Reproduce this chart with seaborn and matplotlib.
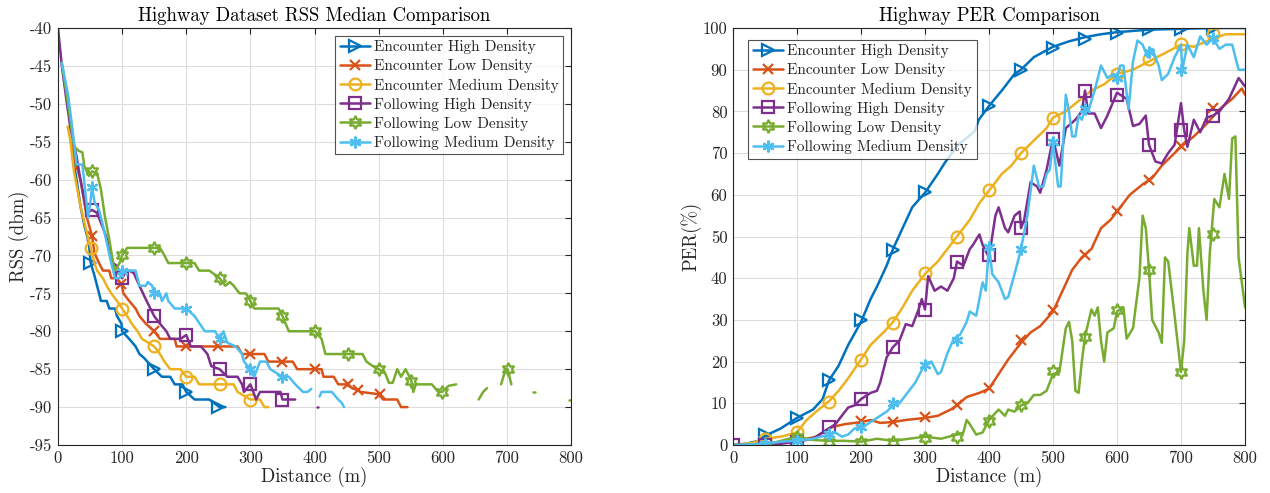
import numpy as np
import pandas as pd
import matplotlib
matplotlib.use("Agg")
import matplotlib.pyplot as plt
from matplotlib.lines import Line2D
import seaborn as sns

nan = np.nan
labels = ["Encounter High Density", "Encounter Low Density", "Encounter Medium Density",
          "Following High Density", "Following Low Density", "Following Medium Density"]
colors = ["#0072BD", "#D95319", "#EDB120", "#7E2F8E", "#77AC30", "#4DBEEE"]
markers = [">", "x", "o", "s", (6, 1, 0), (6, 2, 0)]
msizes = [8.5, 6.5, 8.5, 8.0, 9.5, 8.5]

# ---------------- RSS (left) ----------------
rss_eh_x = [22, 29, 35, 41, 48, 51, 57, 64, 67, 76, 80, 89, 92, 99, 100, 111, 121, 127, 134, 150, 162, 175, 182, 194, 200, 213, 236, 252, 261]
rss_eh_y = [-56.7, -60, -63.5, -66, -68.3, -71, -72.7, -75, -76, -76, -77, -77, -78, -79, -80, -81, -82, -83, -83.5, -85, -86, -86, -87, -87, -88, -89, -89, -90, -90]
rss_eh_mx = [50, 100, 150, 200, 250]
rss_eh_my = [-71, -80, -85, -88, -90]

rss_el_x = [20, 28, 35, 45, 53, 57, 64, 70, 80, 83, 92, 99, 102, 111, 121, 127, 137, 150, 159, 182, 185, 200, 280, 287, 300, 322, 328, 350, 366, 373, 401, 411, 414, 430, 437, 449, 459, 465, 472, 500, 507, 529, 535, 545]
rss_el_y = [-55, -58, -60, -65, -67.4, -69.7, -71, -72, -72, -73, -73, -73.8, -75, -76, -77, -78, -79, -80, -81, -81, -82, -82, -82, -83, -83, -83, -84, -84, -84, -85, -85, -85, -86, -86, -87, -87, -87.5, -87.7, -88, -88.3, -89, -89, -90, -90]
rss_el_mx = [53, 99, 150, 200, 250, 300, 350, 401, 452, 468, 502]
rss_el_my = [-67.4, -73.8, -80, -82, -82, -83, -84, -85, -87, -87.7, -88.3]

rss_em_x = [15, 19, 25, 35, 45, 51, 57, 61, 70, 76, 83, 92, 100, 108, 115, 124, 131, 150, 159, 166, 175, 191, 200, 213, 220, 252, 274, 280, 300, 315, 322, 328]
rss_em_y = [-53, -54.7, -59, -63.5, -67, -69, -71, -72, -73, -74, -75, -76, -77, -78, -79, -80, -81, -82, -83, -84, -85, -85, -86, -86, -87, -87, -87, -88, -89, -89, -90, -90]
rss_em_mx = [51, 100, 150, 200, 252, 300]
rss_em_my = [-69, -77, -82, -86, -87, -89]

rss_fh_x = [0, 6, 13, 19, 29, 35, 41, 45, 53, 61, 67, 73, 80, 86, 92, 100, 105, 111, 118, 127, 137, 150, 159, 169, 175, 191, 200, 207, 223, 233, 239, 252, 264, 280, 287, 290, 300, 309, 315, 347, 350, 366, 370, nan, 404, 406]
rss_fh_y = [-40, -45, -49.4, -53, -57, -60, -62.6, -64.4, -64, -64.4, -65.7, -67, -68.8, -71, -71.4, -73, -72.3, -72, -72.3, -74, -75.8, -78, -79, -80, -81, -81, -80.5, -82, -82, -83, -84.6, -85, -86, -86, -87, -88, -87, -89, -88, -88, -89, -89, -89, nan, -90, -90]
rss_fh_mx = [53, 100, 150, 200, 252, 300, 350]
rss_fh_my = [-64, -73, -78, -80.5, -85, -87, -89]

rss_fl_x = [6, 13, 19, 25, 32, 38, 41, 48, 53, 61, 67, 73, 80, 86, 89, 96, 100, 108, 159, 166, 172, 191, 213, 220, 236, 252, 261, 268, 274, 283, 293, 300, 306, 344, 350, 360, 392, 401, 411, 417, 443, 475, 481, 491, 500, 510, 516, 522, 529, 535, 542, 548, 551, 554, 558, 583, 593, 599, 609, 621, nan, 656, 663, 669, nan, 691, 698, 701, 704, 707, nan, 740, 744, nan, 797, 800]
rss_fl_y = [-44.6, -48.5, -52, -55.6, -56.2, -56.4, -58.2, -59.5, -58.9, -59.2, -61.3, -64.8, -67.9, -71, -72, -71, -70, -69, -69, -70, -71, -71, -71, -72, -72, -73, -74, -73.5, -74, -75, -75, -76, -77, -77, -78, -80, -80, -80, -81, -83, -83, -83, -84, -84.6, -85, -85.5, -86.8, -86.8, -85, -86, -85, -86, -86.5, -88, -87, -87, -88, -88, -87.2, -87, nan, -89, -88, -87.5, nan, -87, -85, -85, -86, -87, nan, -88, -88, nan, -89, -89]
rss_fl_mx = [53, 100, 150, 200, 252, 300, 350, 401, 452, 500, 551, 599, 701]
rss_fl_my = [-58.9, -70, -69, -71, -73, -76, -78, -80, -83, -85, -86.5, -88, -85]

rss_fm_x = [6, 16, 22, 29, 38, 45, 47, 51, 53, 57, 64, 70, 76, 83, 89, 96, 100, 111, 121, 127, 137, 140, 147, 150, 159, 162, 169, 172, 182, 200, 213, 229, 245, 252, 258, 264, 277, 287, 290, 300, 306, 315, 325, 331, 350, 360, 370, 382, 389, 395, nan, 408, 411, 427, 437, 443, 446]
rss_fm_y = [-44.6, -49, -53, -58, -58, -63.5, -65, -62.6, -61, -63, -64, -66, -68.3, -71, -73, -73, -72, -72, -72, -74, -74, -73.5, -74, -75, -75, -76, -75, -76, -77, -77, -78, -80, -80, -81, -80, -81.5, -82, -83, -84, -85, -86, -84, -84, -85, -86, -86, -87, -88, -88, -87.6, nan, -88.6, -88, -88, -89, -89.5, -90]
rss_fm_mx = [53, 100, 150, 200, 252, 300, 350]
rss_fm_my = [-61, -72, -75, -77, -81, -85, -86]

# ---------------- PER (right) ----------------
per_eh_x = [0, 20, 40, 50, 75, 100, 125, 140, 150, 165, 180, 200, 215, 225, 240, 250, 265, 280, 300, 320, 331, 350, 378, 384, 400, 420, 440, 450, 470, 500, 525, 550, 575, 600, 650, 700, 750, 800]
per_eh_y = [0, 0.3, 1, 2.2, 4, 6.5, 8.5, 11, 15.5, 19, 24, 29.5, 35, 38, 43, 47, 52, 57, 60.5, 65, 67.7, 71.7, 75.3, 78, 81.3, 85, 89, 90, 93, 95.5, 96.8, 97.8, 98.5, 99, 99.6, 99.8, 100, 100]
per_eh_mx = [50, 100, 150, 200, 250, 300, 400, 450, 500, 550, 600, 650, 700, 750]
per_eh_my = [2.4, 6.5, 15.6, 29.9, 46.8, 60.6, 81.3, 90, 95.2, 97.4, 98.9, 99.7, 99.8, 100]

per_el_x = [0, 50, 100, 130, 150, 160, 175, 200, 215, 230, 250, 270, 300, 320, 340, 350, 365, 385, 400, 415, 430, 450, 465, 480, 500, 515, 530, 545, 560, 575, 590, 600, 620, 640, 655, 670, 700, 720, 740, 760, 780, 795, 800]
per_el_y = [0, 0.3, 1, 2, 4, 4.5, 5, 5.5, 6, 5.3, 5.5, 6, 6.5, 7, 8.5, 9.5, 11.5, 12.5, 13.5, 17, 20.5, 24.5, 27, 28.5, 32, 37, 42, 45, 47, 52, 54, 56, 60, 62.5, 64, 67, 71.5, 74, 77, 80.5, 83, 85.5, 84]
per_el_mx = [200, 250, 300, 350, 400, 450, 500, 550, 600, 650, 700, 750]
per_el_my = [5.8, 5.6, 6.8, 9.6, 13.6, 25.2, 32.4, 45.6, 56, 63.6, 71.7, 80.9]

per_em_x = [0, 30, 50, 75, 100, 115, 130, 150, 165, 180, 200, 215, 235, 250, 265, 280, 300, 320, 340, 350, 370, 385, 400, 420, 435, 450, 470, 490, 500, 520, 540, 560, 580, 600, 625, 650, 675, 700, 720, 750, 770, 800]
per_em_y = [0, 0.5, 1.5, 2, 3, 6, 8, 10.5, 13, 16, 20.5, 24, 27, 29.5, 33, 37, 41, 44, 48, 50, 54, 58, 61, 65, 67, 70, 73, 76, 78.5, 80, 82.5, 85, 86.5, 89, 90, 92, 94, 96, 95.5, 97.5, 98.5, 98.5]
per_em_mx = [50, 100, 150, 200, 250, 300, 350, 400, 450, 500, 600, 650, 700, 750]
per_em_my = [1.5, 3.2, 10.4, 20.4, 29.2, 41.2, 50, 61.1, 70, 78.5, 88.9, 92.5, 96.1, 98.5]

per_fh_x = [0, 50, 75, 100, 125, 150, 160, 170, 180, 190, 200, 215, 225, 230, 240, 250, 260, 270, 280, 290, 295, 300, 305, 315, 325, 335, 345, 350, 360, 370, 375, 385, 390, 400, 410, 415, 425, 430, 440, 448, 450, 455, 465, 475, 480, 490, 500, 510, 520, 535, 545, 550, 555, 565, 575, 585, 600, 615, 625, 635, 645, 650, 660, 670, 680, 690, 700, 705, 710, 720, 730, 740, 750, 760, 775, 790, 800]
per_fh_y = [0, 0, 0.3, 0.8, 1.5, 4, 5, 7, 9, 9.5, 11, 12.5, 13, 15, 21, 23.5, 25, 29, 28.5, 32.5, 35, 32.5, 40.5, 37, 38, 37, 40, 44, 43, 47, 48, 50.5, 48, 45, 55, 57, 52, 51, 55, 56, 52, 54, 63, 62, 60.5, 66, 73.5, 67, 76, 78, 80, 85, 79.5, 79.5, 76, 79, 84.5, 83, 76.5, 77, 79, 72, 68, 67.5, 70, 72, 82, 75.5, 71.5, 78, 75, 78.5, 79, 80, 83, 88, 86]
per_fh_mx = [0, 50, 100, 150, 200, 250, 300, 350, 400, 450, 500, 550, 600, 650, 700, 750]
per_fh_my = [0, 0, 0.8, 4.2, 11, 23.6, 32.4, 44, 45.5, 52, 73.3, 85, 84, 71.9, 75.5, 78.9]

per_fl_x = [0, 50, 100, 125, 150, 175, 200, 225, 250, 275, 300, 325, 350, 360, 365, 370, 380, 390, 400, 415, 425, 430, 440, 450, 460, 470, 480, 490, 500, 510, 520, 525, 530, 535, 540, 545, 550, 560, 565, 570, 575, 580, 585, 595, 600, 610, 615, 625, 635, 640, 645, 650, 655, 665, 670, 675, 680, 690, 700, 705, 710, 713, 720, 725, 728, 735, 740, 745, 752, 760, 768, 775, 780, 785, 790, 800]
per_fl_y = [0, 0, 2, 1.2, 1, 1, 0.8, 1.5, 1, 1.5, 2, 1.5, 2.5, 3, 6, 5, 2.5, 3, 6, 8.5, 7, 8.5, 8, 9.5, 10, 12, 12, 13, 17, 17.5, 28, 29.5, 25, 13, 12.5, 20, 26, 32.5, 31, 33, 25, 20, 27, 28, 32, 33, 25.5, 28, 40, 55, 52, 42, 30, 27, 24.5, 45, 44, 31, 17.5, 25, 46, 52, 43, 43, 52, 37, 30, 46, 59, 57, 65, 59, 73.5, 74, 45, 33]
per_fl_mx = [50, 100, 150, 200, 250, 300, 350, 400, 450, 500, 550, 600, 650, 700, 750]
per_fl_my = [0, 2, 0.8, 0.8, 0.8, 1.6, 2, 5.8, 9.6, 17.8, 25.9, 32.3, 42, 17.6, 50.6]

per_fm_x = [0, 50, 75, 100, 125, 150, 160, 170, 180, 190, 200, 210, 225, 240, 250, 260, 275, 285, 295, 300, 310, 320, 325, 335, 345, 355, 365, 370, 380, 390, 395, 400, 405, 415, 425, 430, 440, 450, 460, 470, 478, 485, 490, 495, 500, 505, 508, 512, 515, 520, 525, 530, 535, 540, 545, 550, 555, 565, 575, 585, 595, 600, 605, 610, 618, 625, 632, 640, 648, 655, 665, 670, 680, 690, 700, 702, 710, 720, 730, 740, 750, 760, 770, 780, 790, 800]
per_fm_y = [0, 0.3, 0.8, 1, 1.5, 2.5, 3, 2, 2.5, 4, 4, 5, 6.5, 8, 9.5, 10, 13, 15, 18, 19.5, 20, 17, 17.5, 22, 25.5, 26.5, 29.5, 32, 31, 39, 37, 48, 41, 39, 35, 35.5, 41, 47, 55, 67, 62, 62, 65, 66, 72.5, 66, 62, 62, 70, 84, 80, 74, 74, 79, 78, 80.5, 80, 85, 91, 88, 89, 88, 91, 91, 80.5, 92, 97, 96, 93, 95, 91, 87.5, 89, 93, 96, 90, 96, 93, 98, 96, 97.5, 95, 96, 96, 90, 90]
per_fm_mx = [50, 100, 150, 200, 250, 300, 350, 400, 450, 500, 550, 600, 650, 700, 750]
per_fm_my = [0.3, 1, 2.6, 4.2, 10, 19.2, 25.2, 47.6, 47, 72.6, 80.5, 87.9, 94.3, 90, 97.5]

rss_series = [
    (rss_eh_x, rss_eh_y, rss_eh_mx, rss_eh_my),
    (rss_el_x, rss_el_y, rss_el_mx, rss_el_my),
    (rss_em_x, rss_em_y, rss_em_mx, rss_em_my),
    (rss_fh_x, rss_fh_y, rss_fh_mx, rss_fh_my),
    (rss_fl_x, rss_fl_y, rss_fl_mx, rss_fl_my),
    (rss_fm_x, rss_fm_y, rss_fm_mx, rss_fm_my),
]
per_series = [
    (per_eh_x, per_eh_y, per_eh_mx, per_eh_my),
    (per_el_x, per_el_y, per_el_mx, per_el_my),
    (per_em_x, per_em_y, per_em_mx, per_em_my),
    (per_fh_x, per_fh_y, per_fh_mx, per_fh_my),
    (per_fl_x, per_fl_y, per_fl_mx, per_fl_my),
    (per_fm_x, per_fm_y, per_fm_mx, per_fm_my),
]

sns.set_style("white")
plt.rcParams["font.family"] = ["cmr10", "DejaVu Serif"]
plt.rcParams["mathtext.fontset"] = "cm"
plt.rcParams["axes.unicode_minus"] = False
plt.rcParams["axes.formatter.use_mathtext"] = False

LW = 1.8
MEW = 1.6

fig = plt.figure(figsize=(12.7, 4.93), dpi=100)
axL = fig.add_axes([58 / 1270, 1 - 445 / 493, 513 / 1270, 417 / 493])
axR = fig.add_axes([733 / 1270, 1 - 445 / 493, 512 / 1270, 417 / 493])


def draw(ax, series):
    for (x, y, mx, my), c, m, ms in zip(series, colors, markers, msizes):
        x = np.asarray(x, float)
        y = np.asarray(y, float)
        seg = np.cumsum(np.isnan(x))
        df = pd.DataFrame({"x": x, "y": y, "seg": seg}).dropna()
        sns.lineplot(data=df, x="x", y="y", units="seg", estimator=None, sort=False,
                     ax=ax, color=c, lw=LW, legend=False)
        sns.lineplot(x=mx, y=my, ax=ax, color=c, marker=m, linestyle="none",
                     ms=ms, mew=MEW, mfc="none", mec=c, estimator=None, sort=False,
                     legend=False)


draw(axL, rss_series)
draw(axR, per_series)

for ax in (axL, axR):
    ax.set_xlim(0, 800)
    ax.set_xticks(np.arange(0, 801, 100))
    ax.grid(True, color="#dcdcdc", lw=0.8)
    ax.set_axisbelow(True)
    ax.tick_params(direction="in", top=True, right=True, length=4, width=0.8,
                   labelsize=12, colors="#262626", pad=4)
    for s in ax.spines.values():
        s.set_color("#262626")
        s.set_linewidth(0.8)
    ax.set_xlabel("Distance (m)", fontsize=13.5, color="#262626", labelpad=1)

axL.set_ylim(-95, -40)
axL.set_yticks(np.arange(-95, -39, 5))
axL.set_ylabel("RSS (dbm)", fontsize=13.5, color="#262626", labelpad=1)
axL.set_title("Highway Dataset RSS Median Comparison", fontsize=13.5, color="#000000", pad=5)

axR.set_ylim(0, 100)
axR.set_yticks(np.arange(0, 101, 10))
axR.set_ylabel("PER(%)", fontsize=13.5, color="#262626", labelpad=1)
axR.set_title("Highway PER Comparison", fontsize=13.5, color="#000000", pad=5)

handles = [Line2D([], [], color=c, lw=LW, marker=m, ms=ms, mew=MEW, mfc="none", mec=c)
           for c, m, ms in zip(colors, markers, msizes)]
legkw = dict(fontsize=11, frameon=True, fancybox=False, edgecolor="#262626",
             handlelength=2.0, handletextpad=0.25, labelspacing=0.33, borderpad=0.3,
             borderaxespad=0.5)
lgL = axL.legend(handles, labels, loc="upper right", **legkw)
lgR = axR.legend(handles, labels, loc="upper left", bbox_to_anchor=(0.015, 0.99), **legkw)
for lg in (lgL, lgR):
    lg.get_frame().set_linewidth(0.8)

fig.savefig("out.png", dpi=100)
